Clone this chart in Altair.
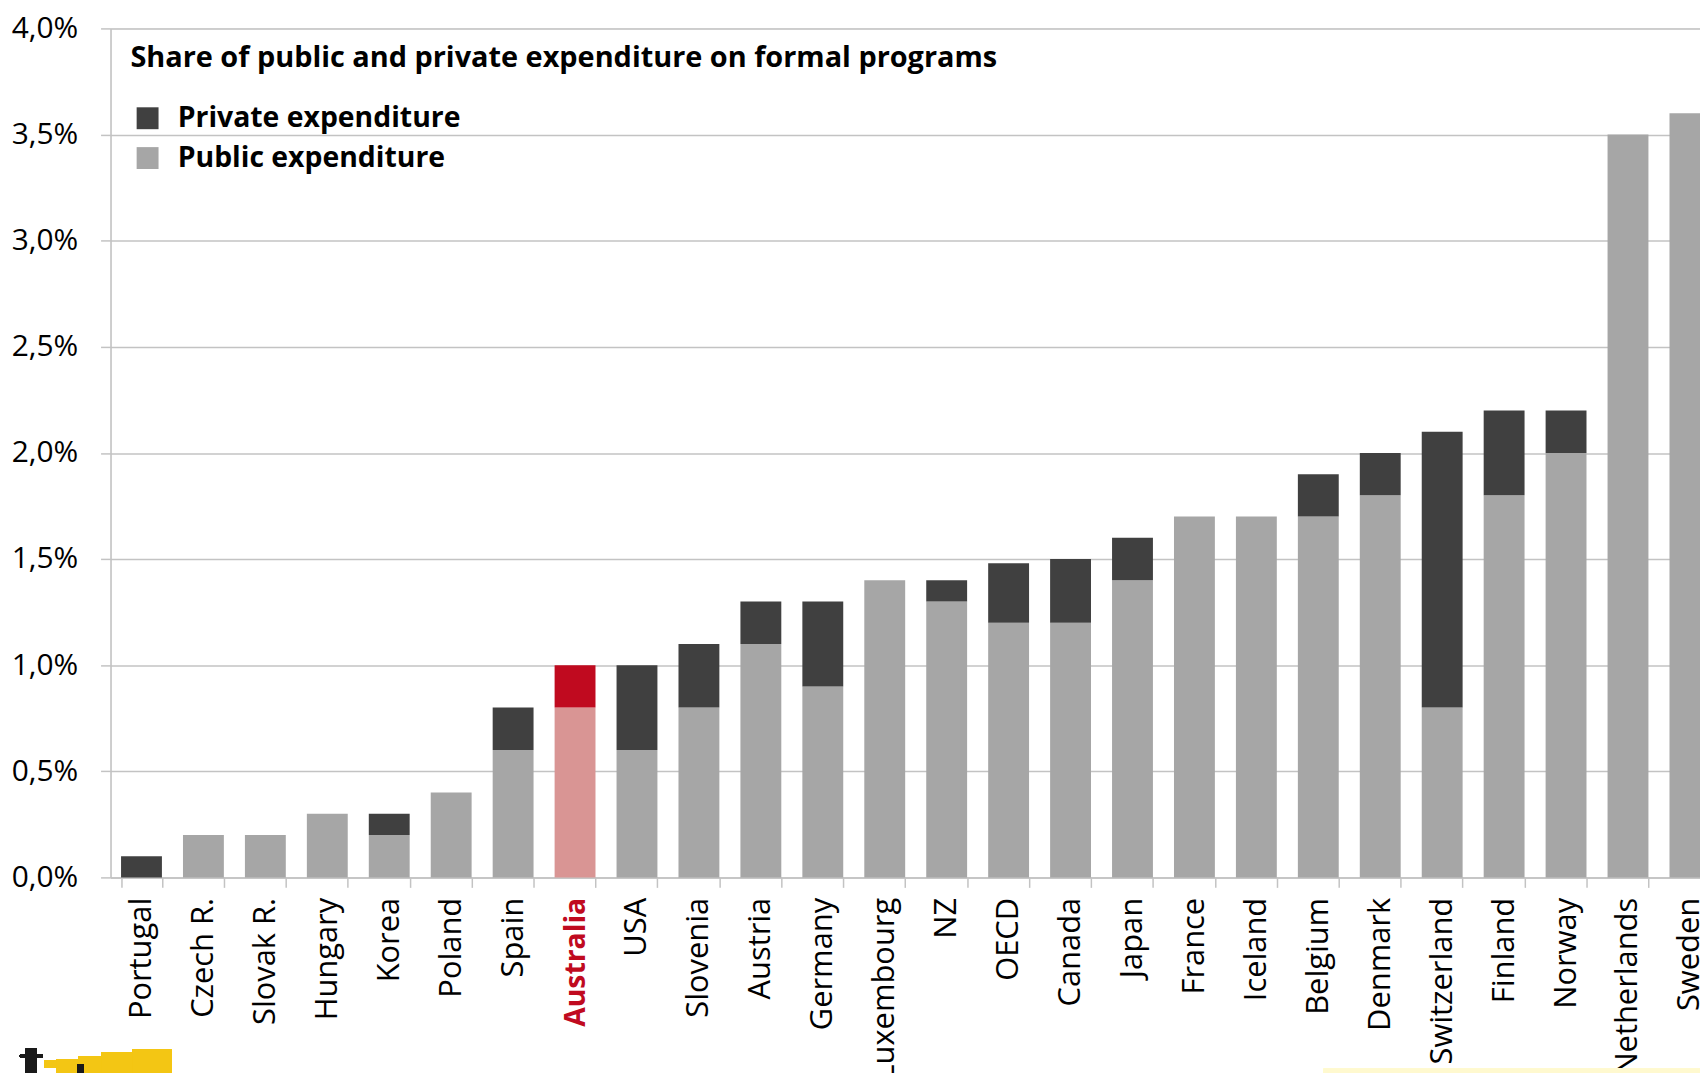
import altair as alt
import pandas as pd

countries = ["Portugal", "Czech R.", "Slovak R.", "Hungary", "Korea", "Poland", "Spain",
             "Australia", "USA", "Slovenia", "Austria", "Germany", "Luxembourg", "NZ",
             "OECD", "Canada", "Japan", "France", "Iceland", "Belgium", "Denmark",
             "Switzerland", "Finland", "Norway", "Netherlands", "Sweden"]
public = [0.0, 0.2, 0.2, 0.3, 0.2, 0.4, 0.6, 0.8, 0.6, 0.8, 1.1, 0.9, 1.4, 1.3,
          1.2, 1.2, 1.4, 1.7, 1.7, 1.7, 1.8, 0.8, 1.8, 2.0, 3.5, 3.6]
private = [0.1, 0.0, 0.0, 0.0, 0.1, 0.0, 0.2, 0.2, 0.4, 0.3, 0.2, 0.4, 0.0, 0.1,
           0.28, 0.3, 0.2, 0.0, 0.0, 0.2, 0.2, 1.3, 0.4, 0.2, 0.0, 0.0]
highlight = "Australia"
y_ticks = [0, 0.5, 1.0, 1.5, 2.0, 2.5, 3.0, 3.5, 4.0]

rows = []
for c, pu, pr in zip(countries, public, private):
    rows.append({"country": c, "value": pu, "ord": 0,
                 "key": "Australia public" if c == highlight else "Public expenditure"})
    rows.append({"country": c, "value": pr, "ord": 1,
                 "key": "Australia private" if c == highlight else "Private expenditure"})
df = pd.DataFrame(rows)

FONT = "Open Sans"
GRID = "#C3C3C3"

bars = alt.Chart(df).mark_bar().encode(
    x=alt.X("country:N", sort=countries,
            scale=alt.Scale(paddingInner=0.34, paddingOuter=0.17, range=[0, 1618]),
            axis=alt.Axis(title=None, labelAngle=270, labelFont=FONT,
                          labelFontSize=alt.expr("datum.value == 'Australia' ? 28.5 : 31"),
                          labelColor=alt.expr("datum.value == 'Australia' ? '#C00A1F' : '#000000'"),
                          labelFontWeight=alt.expr("datum.value == 'Australia' ? 'bold' : 'normal'"),
                          tickBand="extent", tickSize=10, tickColor=GRID, tickWidth=1.5,
                          domainColor=GRID, domainWidth=1.5, labelPadding=10,
                          labelLimit=400, grid=False)),
    y=alt.Y("value:Q", stack="zero",
            scale=alt.Scale(domain=[0, 4], nice=False),
            axis=alt.Axis(title=None, values=y_ticks,
                          labelExpr="replace(format(datum.value, '.1f'), '.', ',') + '%'",
                          labelFontSize=30, labelFont=FONT, labelColor="#000000",
                          labelPadding=23, tickSize=10, tickColor=GRID, tickWidth=1.5,
                          domainColor=GRID, domainWidth=1.5,
                          grid=True, gridColor=GRID, gridWidth=1.5)),
    color=alt.Color("key:N",
                    scale=alt.Scale(domain=["Private expenditure", "Public expenditure",
                                            "Australia private", "Australia public"],
                                    range=["#404040", "#A6A6A6", "#C00A1F", "#D99594"]),
                    legend=alt.Legend(values=["Private expenditure", "Public expenditure"],
                                      title="Share of public and private expenditure on formal programs",
                                      orient="none", legendX=20, legendY=16,
                                      titleFont=FONT, titleFontSize=29, titleFontWeight="bold",
                                      titleColor="#000000", titleLimit=1400, titlePadding=31,
                                      labelFont=FONT, labelFontSize=28.5, labelFontWeight="bold",
                                      labelColor="#000000", labelLimit=800,
                                      symbolType="square", symbolSize=484, symbolStrokeWidth=0,
                                      symbolOffset=3, labelOffset=16, rowPadding=11,
                                      padding=0)),
    order=alt.Order("ord:Q"),
)

# decorative logo (stepped yellow telescope) and pale footer box below the labels
def deco(x, x2, y, y2, color):
    return alt.Chart(df).mark_rect(color=color, clip=False).encode(
        x=alt.value(x), x2=alt.value(x2), y=alt.value(y), y2=alt.value(y2))

logo = alt.layer(
    deco(-66, -54, 1037, 1044, "#F3C614"),
    deco(-54, -32, 1036, 1051, "#F3C614"),
    deco(-32, -9, 1033, 1051, "#F3C614"),
    deco(-9, 22, 1029, 1051, "#F3C614"),
    deco(22, 61, 1026, 1051, "#F3C614"),
    deco(-91, -68, 1031, 1034, "#1A1A1A"),
    deco(-85, -74, 1025, 1051, "#1A1A1A"),
    deco(-33, -27, 1041, 1051, "#1A1A1A"),
    deco(1219, 1700, 1045, 1051, "#FFF9CF"),
)

chart = alt.layer(bars, logo).properties(
    width=1597, height=853,
    autosize=alt.AutoSizeParams(type="none"),
    padding={"left": 103, "top": 18, "right": 0, "bottom": 194},
).configure_view(stroke=None).configure(background="#FFFFFF")

chart.save("out.html", embed_options={"renderer": "svg", "actions": False})
